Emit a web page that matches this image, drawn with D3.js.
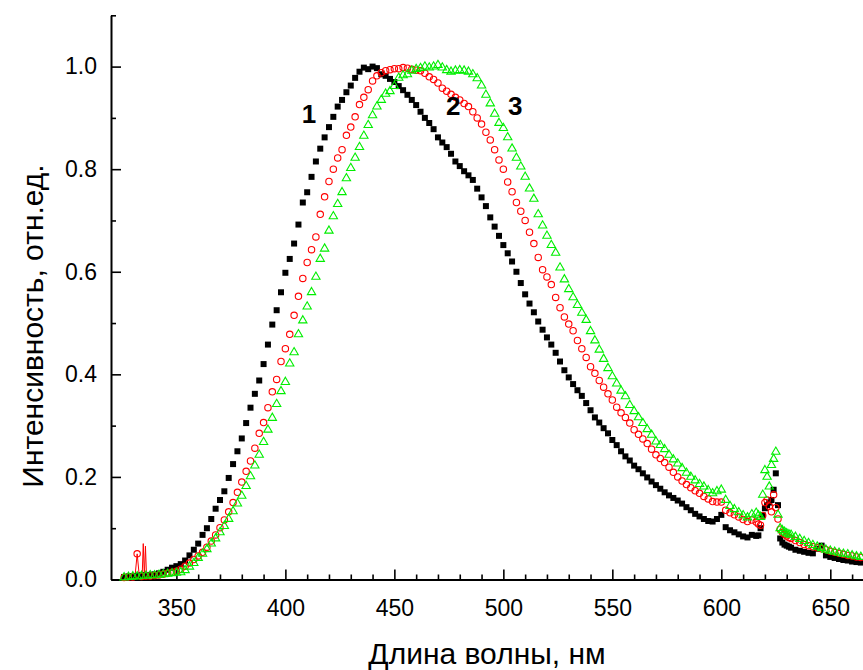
<!DOCTYPE html>
<html><head><meta charset="utf-8">
<script src="https://cdn.jsdelivr.net/npm/d3@7"></script>
<style>
html,body{margin:0;padding:0;background:#fff;}
svg{display:block;font-family:"Liberation Sans",Arial,sans-serif;}
</style></head>
<body>
<svg id="chart" width="863" height="670"></svg>
<script>
// ---- data ----
const wavelength = [
 326,328,330,332,334,336,338,340,342,344,
 346,348,350,352,354,356,358,360,362,364,
 366,368,370,372,374,376,378,380,382,384,
 386,388,390,392,394,396,398,400,402,404,
 406,408,410,412,414,416,418,420,422,424,
 426,428,430,432,434,436,438,440,442,444,
 446,448,450,452,454,456,458,460,462,464,
 466,468,470,472,474,476,478,480,482,484,
 486,488,490,492,494,496,498,500,502,504,
 506,508,510,512,514,516,518,520,522,524,
 526,528,530,532,534,536,538,540,542,544,
 546,548,550,552,554,556,558,560,562,564,
 566,568,570,572,574,576,578,580,582,584,
 586,588,590,592,594,596,598,600,602,604,
 606,608,610,612,614,
 616,617,618,619,620,621,622,623,624,625,626,627,628,629,630,631,
 632,634,636,638,640,642,644,646,648,650,652,654,656,658,660,662,664
];
const series1 = [
 0.005,0.006,0.006,0.007,0.008,0.008,0.009,0.010,0.012,0.015,
 0.019,0.023,0.026,0.030,0.037,0.047,0.058,0.070,0.087,0.100,
 0.118,0.138,0.155,0.172,0.198,0.225,0.250,0.275,0.305,0.335,
 0.362,0.388,0.420,0.458,0.497,0.525,0.560,0.598,0.625,0.655,
 0.692,0.735,0.755,0.785,0.815,0.840,0.862,0.882,0.902,0.922,
 0.935,0.950,0.963,0.978,0.990,0.998,0.995,1.000,0.997,0.985,
 0.982,0.976,0.970,0.962,0.954,0.945,0.935,0.925,0.912,0.900,
 0.890,0.878,0.862,0.852,0.843,0.830,0.815,0.806,0.796,0.788,
 0.779,0.762,0.745,0.728,0.706,0.688,0.670,0.652,0.636,0.620,
 0.600,0.578,0.556,0.538,0.521,0.503,0.487,0.472,0.458,0.442,
 0.425,0.408,0.394,0.381,0.369,0.358,0.344,0.330,0.316,0.306,
 0.295,0.285,0.272,0.262,0.250,0.240,0.232,0.222,0.215,0.207,
 0.199,0.191,0.184,0.177,0.170,0.164,0.159,0.154,0.148,0.141,
 0.135,0.128,0.123,0.118,0.114,0.113,0.118,0.126,0.102,0.096,
 0.092,0.088,0.084,0.082,0.087,
 0.085,0.086,0.100,0.125,0.139,0.145,0.150,0.155,0.175,0.207,0.145,0.080,0.072,0.068,0.066,0.064,
 0.062,0.058,0.056,0.054,0.052,0.051,0.060,0.066,0.047,0.044,0.042,0.040,0.038,0.037,0.035,0.034,0.033
];
const series2 = [
 0.004,0.005,0.005,0.050,0.006,0.007,0.007,0.008,0.009,0.010,
 0.012,0.014,0.016,0.020,0.026,0.032,0.039,0.046,0.053,0.063,
 0.075,0.087,0.101,0.116,0.132,0.150,0.170,0.190,0.211,0.231,
 0.256,0.285,0.306,0.335,0.366,0.390,0.425,0.450,0.478,0.515,
 0.552,0.587,0.618,0.643,0.668,0.712,0.746,0.776,0.800,0.822,
 0.838,0.866,0.882,0.902,0.926,0.940,0.955,0.972,0.982,0.988,
 0.992,0.994,0.996,0.996,0.998,0.997,0.995,0.993,0.992,0.987,
 0.980,0.975,0.968,0.958,0.952,0.946,0.940,0.935,0.928,0.922,
 0.912,0.900,0.888,0.872,0.857,0.838,0.818,0.800,0.775,0.756,
 0.735,0.718,0.700,0.677,0.655,0.628,0.604,0.590,0.575,0.550,
 0.530,0.512,0.498,0.485,0.466,0.450,0.433,0.415,0.402,0.388,
 0.375,0.362,0.350,0.336,0.325,0.316,0.305,0.292,0.283,0.274,
 0.265,0.254,0.243,0.236,0.228,0.219,0.209,0.200,0.192,0.185,
 0.179,0.173,0.168,0.162,0.157,0.152,0.151,0.151,0.135,0.130,
 0.126,0.122,0.117,0.113,0.116,
 0.112,0.108,0.106,0.125,0.150,0.155,0.143,0.132,0.165,0.140,0.118,0.098,0.092,0.088,0.085,0.082,
 0.080,0.076,0.072,0.068,0.066,0.064,0.062,0.060,0.058,0.055,0.053,0.051,0.049,0.047,0.046,0.044,0.043
];
const series3 = [
 0.004,0.005,0.006,0.006,0.007,0.007,0.008,0.008,0.009,0.010,
 0.011,0.012,0.013,0.014,0.018,0.025,0.032,0.042,0.050,0.059,
 0.070,0.080,0.092,0.104,0.118,0.133,0.148,0.163,0.182,0.201,
 0.222,0.243,0.268,0.292,0.315,0.342,0.367,0.385,0.421,0.443,
 0.478,0.505,0.532,0.560,0.590,0.625,0.645,0.680,0.708,0.732,
 0.755,0.782,0.802,0.822,0.843,0.865,0.886,0.905,0.922,0.935,
 0.947,0.952,0.962,0.978,0.983,0.985,0.992,0.995,0.997,1.000,
 0.998,1.000,1.003,0.998,0.993,0.990,0.992,0.993,0.992,0.990,
 0.985,0.977,0.963,0.945,0.928,0.908,0.890,0.880,0.862,0.840,
 0.822,0.805,0.785,0.762,0.742,0.712,0.690,0.670,0.652,0.637,
 0.608,0.585,0.566,0.550,0.535,0.520,0.506,0.484,0.466,0.448,
 0.430,0.412,0.396,0.382,0.368,0.357,0.340,0.328,0.316,0.305,
 0.293,0.282,0.269,0.262,0.254,0.243,0.234,0.226,0.217,0.208,
 0.200,0.193,0.186,0.181,0.174,0.168,0.172,0.175,0.155,0.143,
 0.137,0.131,0.125,0.121,0.127,
 0.130,0.125,0.122,0.165,0.213,0.200,0.181,0.223,0.235,0.249,0.126,0.100,0.096,0.093,0.090,0.088,
 0.087,0.083,0.079,0.075,0.071,0.067,0.064,0.061,0.058,0.056,0.054,0.052,0.050,0.049,0.047,0.045,0.044
];
// thin-line noise spikes at the start of series 2
const spikeWavelength = [326,329,331,332,333,334.3,334.8,335.3,335.8,336.3,338];
const spikeValue      = [0.004,0.005,0.005,0.050,0.006,0.006,0.070,0.006,0.065,0.007,0.007];

const xMajorTicks = [350,400,450,500,550,600,650];
const xMinorTicks = [330,340,360,370,380,390,410,420,430,440,460,470,480,490,510,520,530,540,560,570,580,590,610,620,630,640,660];
const yMajorTicks = [0.0,0.2,0.4,0.6,0.8,1.0];
const yMinorTicks = [0.1,0.3,0.5,0.7,0.9,1.1];
const curveLabels = ["1","2","3"];
const labelAnchors = [[410.8,0.89],[477,0.905],[505.5,0.905]];
const xTitle = "Длина волны, нм";
const yTitle = "Интенсивность, отн.ед.";

// ---- chart ----
const svg = d3.select("#chart");
const x = d3.scaleLinear().domain([320, 665]).range([111, 863]);
const y = d3.scaleLinear().domain([0, 1.1]).range([579.5, 15.3]);

function styleAxis(g){
  g.selectAll("path.domain").attr("stroke","#000").attr("stroke-width",2);
  g.selectAll(".tick line").attr("stroke","#000").attr("stroke-width",1.6);
  g.selectAll("text").attr("fill","#000").style("font-size","23px").style("font-family",'"Liberation Sans",Arial,sans-serif');
}

// x axis
const gx = svg.append("g").attr("transform",`translate(0,${y(0)})`);
gx.call(d3.axisBottom(x).tickValues(xMajorTicks).tickSizeInner(-10).tickSizeOuter(0).tickPadding(20).tickFormat(d3.format("d")));
styleAxis(gx);
const gxm = svg.append("g").attr("transform",`translate(0,${y(0)})`);
gxm.call(d3.axisBottom(x).tickValues(xMinorTicks).tickSizeInner(-5).tickSizeOuter(0).tickFormat(""));
gxm.select("path.domain").remove();
styleAxis(gxm);

// y axis
const gy = svg.append("g").attr("transform",`translate(${x(320)},0)`);
gy.call(d3.axisLeft(y).tickValues(yMajorTicks).tickSizeInner(-10).tickSizeOuter(0).tickPadding(14).tickFormat(d3.format(".1f")));
styleAxis(gy);
const gym = svg.append("g").attr("transform",`translate(${x(320)},0)`);
gym.call(d3.axisLeft(y).tickValues(yMinorTicks).tickSizeInner(-5).tickSizeOuter(0).tickFormat(""));
gym.select("path.domain").remove();
styleAxis(gym);

// axis titles
svg.append("text").attr("x",(x.range()[0]+x.range()[1])/2).attr("y",664)
  .attr("text-anchor","middle").style("font-size","30px").attr("fill","#000").text(xTitle);
svg.append("text").attr("transform",`translate(43,326) rotate(-90)`)
  .attr("text-anchor","middle").style("font-size","30px").attr("fill","#000").text(yTitle);

// spike line
const spikeData = spikeWavelength.map((w,i)=>({w,v:spikeValue[i]}));
svg.append("path").datum(spikeData)
  .attr("d", d3.line().x(d=>x(d.w)).y(d=>y(d.v)))
  .attr("fill","none").attr("stroke","#ff0000").attr("stroke-width",1);

const d1 = wavelength.map((w,i)=>({w,v:series1[i]}));
const d2 = wavelength.map((w,i)=>({w,v:series2[i]}));
const d3s = wavelength.map((w,i)=>({w,v:series3[i]}));

// series 1: filled squares
svg.append("g").selectAll("path").data(d1).join("path")
  .attr("transform",d=>`translate(${x(d.w)},${y(d.v)})`)
  .attr("d", d3.symbol().type(d3.symbolSquare).size(36)())
  .attr("fill","#000");

// series 2: open circles
svg.append("g").selectAll("circle").data(d2).join("circle")
  .attr("cx",d=>x(d.w)).attr("cy",d=>y(d.v)).attr("r",3.2)
  .attr("fill","none").attr("stroke","#ff0000").attr("stroke-width",1.1);

// series 3: open triangles
svg.append("g").selectAll("path").data(d3s).join("path")
  .attr("transform",d=>`translate(${x(d.w)},${y(d.v)})`)
  .attr("d", d3.symbol().type(d3.symbolTriangle).size(30)())
  .attr("fill","none").attr("stroke","#00ee00").attr("stroke-width",1.1);

// curve labels
svg.append("g").selectAll("text").data(curveLabels).join("text")
  .attr("x",(d,i)=>x(labelAnchors[i][0])).attr("y",(d,i)=>y(labelAnchors[i][1]))
  .attr("text-anchor","middle").style("font-size","26px").style("font-weight","bold")
  .attr("fill","#000").text(d=>d);
</script>
</body></html>
